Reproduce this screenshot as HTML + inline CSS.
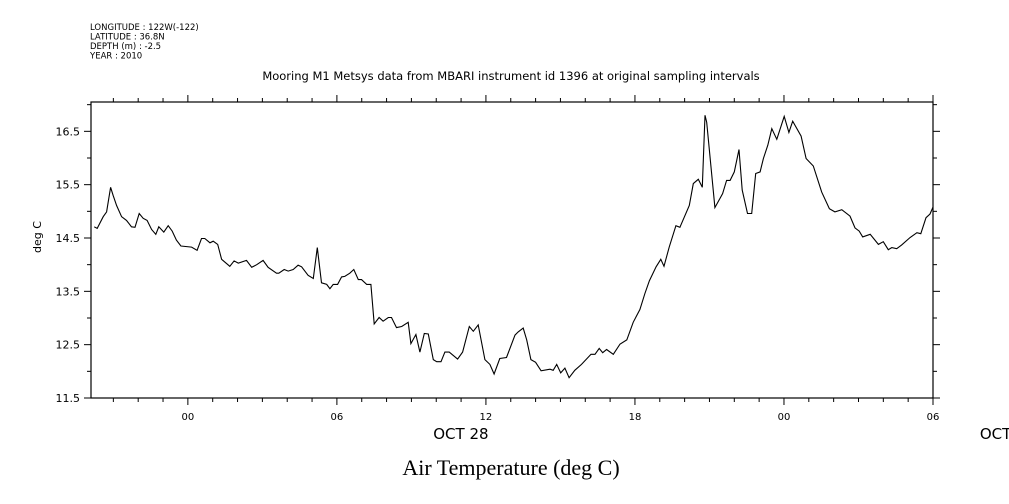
<!DOCTYPE html>
<html><head><meta charset="utf-8"><style>
html,body{margin:0;padding:0;background:#fff;}
svg{display:block;font-family:"DejaVu Sans","Liberation Sans",sans-serif;}
</style></head><body>
<svg id="chart" width="1009" height="504" viewBox="0 0 1009 504" xmlns="http://www.w3.org/2000/svg">
<g font-size="8.5" fill="#000">
<text x="90" y="30">LONGITUDE : 122W(-122)</text>
<text x="90" y="39.5">LATITUDE : 36.8N</text>
<text x="90" y="49">DEPTH (m) : -2.5</text>
<text x="90" y="58.5">YEAR : 2010</text>
</g>
<text x="511" y="80" text-anchor="middle" font-size="11.5">Mooring M1 Metsys data from MBARI instrument id 1396 at original sampling intervals</text>
<text transform="translate(41,237) rotate(-90)" text-anchor="middle" font-size="11">deg C</text>
<text x="511" y="475" text-anchor="middle" font-size="22" font-family="'Liberation Serif',serif">Air Temperature (deg C)</text>
<g id="axes"></g>
<g id="series"></g>
</svg>
<script>
const hours=[-3.77,-3.65,-3.41,-3.27,-3.11,-3.01,-2.87,-2.67,-2.47,-2.27,-2.13,-1.96,-1.80,-1.64,-1.46,-1.29,-1.17,-0.97,-0.79,-0.63,-0.46,-0.28,0.15,0.37,0.55,0.68,0.89,1.02,1.20,1.36,1.69,1.86,2.03,2.36,2.57,2.77,3.03,3.23,3.57,3.66,3.88,4.04,4.24,4.44,4.58,4.84,5.05,5.21,5.38,5.59,5.72,5.85,6.03,6.19,6.32,6.52,6.68,6.86,6.99,7.20,7.37,7.50,7.70,7.86,8.07,8.20,8.40,8.61,8.87,8.98,9.18,9.34,9.52,9.68,9.88,10.02,10.19,10.35,10.52,10.86,11.06,11.33,11.49,11.69,11.96,12.16,12.33,12.56,12.83,13.17,13.30,13.50,13.64,13.81,14.00,14.22,14.58,14.71,14.85,15.01,15.18,15.35,15.58,15.85,16.23,16.39,16.56,16.70,16.86,17.13,17.40,17.67,17.93,18.20,18.40,18.58,18.85,19.04,19.17,19.38,19.65,19.81,20.19,20.35,20.55,20.71,20.82,20.89,21.22,21.53,21.69,21.83,22.00,22.19,22.32,22.53,22.70,22.86,23.04,23.17,23.35,23.51,23.71,24.01,24.20,24.35,24.69,24.89,25.18,25.52,25.83,26.05,26.33,26.66,26.86,27.03,27.17,27.47,27.80,28.00,28.20,28.34,28.54,28.74,29.08,29.35,29.51,29.72,29.88,30.00];
const temps=[14.71,14.68,14.90,14.99,15.45,15.30,15.11,14.90,14.83,14.71,14.70,14.96,14.87,14.83,14.66,14.57,14.71,14.61,14.73,14.63,14.46,14.35,14.33,14.27,14.49,14.49,14.41,14.44,14.38,14.10,13.97,14.07,14.03,14.08,13.95,14.00,14.08,13.95,13.84,13.84,13.91,13.88,13.91,13.99,13.96,13.80,13.74,14.32,13.66,13.63,13.55,13.63,13.63,13.77,13.78,13.84,13.91,13.72,13.72,13.63,13.63,12.89,13.01,12.94,13.01,13.01,12.82,12.84,12.92,12.52,12.69,12.36,12.71,12.70,12.22,12.18,12.18,12.36,12.36,12.23,12.36,12.84,12.75,12.87,12.22,12.13,11.95,12.24,12.26,12.68,12.74,12.81,12.59,12.22,12.17,12.01,12.04,12.02,12.13,11.97,12.06,11.88,12.02,12.13,12.32,12.32,12.43,12.35,12.41,12.32,12.51,12.59,12.92,13.16,13.46,13.70,13.96,14.10,13.97,14.33,14.73,14.70,15.11,15.52,15.60,15.45,16.80,16.67,15.07,15.33,15.58,15.58,15.74,16.16,15.40,14.96,14.96,15.71,15.74,15.99,16.24,16.55,16.35,16.78,16.48,16.69,16.41,15.99,15.85,15.36,15.05,14.99,15.03,14.91,14.69,14.63,14.52,14.57,14.38,14.43,14.28,14.32,14.30,14.37,14.51,14.60,14.58,14.88,14.95,15.08];
const yTickValues=[11.5,12.5,13.5,14.5,15.5,16.5];
const yTickLabels=["11.5","12.5","13.5","14.5","15.5","16.5"];
const xTickHours=[0,6,12,18,24,30];
const xTickLabels=["00","06","12","18","00","06"];
const dateLabelHours=[12,24+9];
const dateLabels=["OCT 28","OCT 29"];

const L=91,R=933,T=102,B=398;
const xMin=-3.9,xMax=30,yMin=11.5,yMax=17.05;
const sx=h=>L+(h-xMin)/(xMax-xMin)*(R-L);
const sy=v=>B-(v-yMin)/(yMax-yMin)*(B-T);
const NS="http://www.w3.org/2000/svg";
const axes=document.getElementById('axes');
function mk(tag,attrs,parent){const e=document.createElementNS(NS,tag);for(const k in attrs)e.setAttribute(k,attrs[k]);parent.appendChild(e);return e;}

const frame=mk('rect',{x:L,y:T,width:R-L,height:B-T,fill:'none',stroke:'#000','stroke-width':1.2},axes);



// x minor/major ticks each hour
for(let h=Math.ceil(xMin);h<=xMax;h++){
  const x=sx(h);const major=(h%6===0);const len=major?7:4;
  const tb=mk('line',{x1:x,y1:B,x2:x,y2:B+len,stroke:'#000','stroke-width':1},axes);
  
  
  const tt=mk('line',{x1:x,y1:T,x2:x,y2:T-len,stroke:'#000','stroke-width':1},axes);
  
  
}
// y ticks every 0.5
for(let v=yMin;v<=yMax+1e-6;v+=0.5){
  const y=sy(v);const major=Math.abs((v-11.5)%1)<1e-6;const len=major?7:4;
  const tl=mk('line',{x1:L,y1:y,x2:L-len,y2:y,stroke:'#000','stroke-width':1},axes);
  
  
  const tr=mk('line',{x1:R,y1:y,x2:R+len,y2:y,stroke:'#000','stroke-width':1},axes);
  
  
}
yTickValues.forEach((v,i)=>{
  const t=mk('text',{x:L-11,y:sy(v)+4,'text-anchor':'end','font-size':11},axes);
  t.textContent=yTickLabels[i];
  
  
});
xTickHours.forEach((h,i)=>{
  const t=mk('text',{x:sx(h),y:B+22,'text-anchor':'middle','font-size':10},axes);
  t.textContent=xTickLabels[i];
  
  
});
dateLabelHours.forEach((h,i)=>{
  const t=mk('text',{x:sx(h)-(i===0?25:0),y:B+41,'text-anchor':'middle','font-size':15},axes);
  t.textContent=dateLabels[i];
  
  
});

const series=document.getElementById('series');
const pts=hours.map((h,i)=>sx(h).toFixed(1)+','+sy(temps[i]).toFixed(1)).join(' ');
const line=mk('polyline',{points:pts,fill:'none',stroke:'#000','stroke-width':1.1,'stroke-linejoin':'miter'},series);


</script>
</body></html>
